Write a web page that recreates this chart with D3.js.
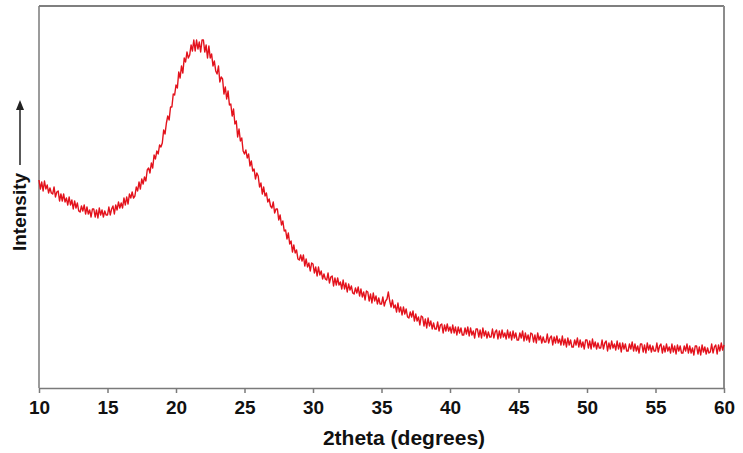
<!DOCTYPE html>
<html>
<head>
<meta charset="utf-8">
<script src="https://cdn.jsdelivr.net/npm/d3@7"></script>
<style>
  html, body { margin: 0; padding: 0; background: #ffffff; }
  svg { display: block; }
</style>
</head>
<body>
<script>
// XRD scan: 2theta from 10 to 60 degrees, one reading every 0.1 degree
const angleStart = 10;
const angleStep = 0.1;
const xTicks = [10, 15, 20, 25, 30, 35, 40, 45, 50, 55, 60];

// Intensity (arbitrary units), ten readings per degree
const intensity = [
  208,199,206,197,207,199,203,195,200,195,   // 10
  194,201,191,196,197,187,194,187,194,186,   // 11
  190,183,191,183,188,179,187,180,185,177,   // 12
  176,182,177,183,174,181,174,178,171,179,   // 13
  179,171,178,170,180,173,178,171,177,173,   // 14
  173,181,173,179,182,174,183,178,186,180,   // 15
  185,180,190,183,191,184,194,190,196,190,   // 16
  192,201,197,206,199,209,204,211,207,218,   // 17
  220,215,225,220,233,229,237,234,243,241,   // 18
  245,258,254,265,272,268,281,281,294,293,   // 19
  303,300,316,310,322,315,330,326,336,330,   // 20
  333,343,337,348,337,348,339,346,336,348,   // 21
  348,336,343,330,342,330,334,322,327,317,   // 22
  314,322,306,311,309,294,301,289,297,283,   // 23
  284,272,279,264,267,251,259,247,250,237,   // 24
  234,238,230,234,222,227,217,219,209,215,   // 25
  212,201,205,194,201,192,195,186,189,182,   // 26
  180,186,175,179,179,168,173,163,167,157,   // 27
  158,149,155,144,147,136,143,135,138,129,   // 28
  128,133,127,133,122,129,121,125,117,125,   // 29
  124,115,121,112,121,113,117,109,114,109,   // 30
  108,115,105,111,112,102,110,103,110,103,   // 31
  106, 99,108, 99,105, 96,104, 98,102, 95,   // 32
   94,100, 95,101, 92, 99, 91, 96, 88, 97,   // 33
   96, 87, 94, 85, 95, 87, 92, 84, 90, 84,   // 34
   84, 91, 82, 87, 89, 96, 87, 81, 88, 80,   // 35
   83, 76, 85, 76, 81, 73, 81, 74, 79, 71,   // 36
   70, 76, 71, 77, 67, 74, 67, 71, 63, 72,   // 37
   71, 62, 69, 60, 70, 62, 67, 59, 65, 59,   // 38
   59, 66, 57, 63, 64, 55, 63, 57, 64, 57,   // 39
   61, 55, 63, 55, 61, 53, 61, 55, 60, 53,   // 40
   53, 60, 54, 61, 52, 60, 53, 57, 50, 59,   // 41
   59, 51, 58, 50, 60, 52, 57, 50, 56, 51,   // 42
   51, 59, 50, 56, 58, 49, 57, 50, 58, 51,   // 43
   55, 49, 58, 50, 56, 48, 57, 50, 55, 48,   // 44
   48, 55, 50, 57, 47, 55, 48, 53, 46, 55,   // 45
   54, 46, 53, 45, 55, 48, 52, 45, 51, 46,   // 46
   46, 54, 45, 50, 52, 43, 51, 45, 52, 45,   // 47
   49, 43, 52, 43, 49, 41, 50, 43, 48, 41,   // 48
   41, 48, 43, 50, 41, 48, 41, 46, 39, 48,   // 49
   48, 40, 47, 39, 49, 41, 46, 39, 45, 40,   // 50
   40, 48, 39, 45, 47, 37, 45, 39, 47, 40,   // 51
   44, 38, 47, 39, 45, 36, 45, 39, 44, 37,   // 52
   37, 44, 39, 46, 37, 44, 37, 42, 35, 44,   // 53
   44, 36, 43, 35, 45, 38, 43, 36, 42, 37,   // 54
   37, 45, 36, 42, 44, 35, 42, 36, 44, 37,   // 55
   41, 35, 44, 36, 42, 34, 43, 37, 42, 35,   // 56
   35, 42, 37, 44, 35, 42, 35, 40, 33, 42,   // 57
   42, 34, 41, 33, 43, 36, 41, 34, 40, 35,   // 58
   36, 44, 35, 41, 43, 34, 43, 37, 45, 38,   // 59
   43                                         // 60
];

const xLabel = "2theta (degrees)";
const yLabel = "Intensity";

const W = 743, H = 453;
const margin = { left: 39, right: 19, top: 6, bottom: 65 };

const svg = d3.select("body").append("svg")
  .attr("width", W).attr("height", H);

const x = d3.scaleLinear().domain([10, 60]).range([margin.left, W - margin.right]);
const y = d3.scaleLinear().domain([0, 382]).range([H - margin.bottom, margin.top]);

const points = intensity.map((v, i) => [angleStart + i * angleStep, v]);

// plot frame
const frame = svg.append("g").attr("fill", "none");
frame.append("line")
  .attr("x1", x(10)).attr("x2", x(60)).attr("y1", y(382)).attr("y2", y(382))
  .attr("stroke", "#555").attr("stroke-width", 1.5);
frame.append("line")
  .attr("x1", x(60)).attr("x2", x(60)).attr("y1", y(382)).attr("y2", y(0))
  .attr("stroke", "#8c8c8c").attr("stroke-width", 2);
frame.append("line")
  .attr("x1", x(10)).attr("x2", x(10)).attr("y1", y(382)).attr("y2", y(0))
  .attr("stroke", "#7a7a7a").attr("stroke-width", 1.5);

// diffraction trace
svg.append("path")
  .datum(points)
  .attr("fill", "none")
  .attr("stroke", "#e3121c")
  .attr("stroke-width", 1.4)
  .attr("stroke-linejoin", "round")
  .attr("d", d3.line().x(d => x(d[0])).y(d => y(d[1])));

// bottom axis
const xAxis = svg.append("g")
  .attr("transform", `translate(0,${y(0)})`)
  .call(d3.axisBottom(x).tickValues(xTicks).tickSize(5).tickSizeOuter(0).tickPadding(8));
xAxis.select(".domain").attr("stroke", "#7a7a7a").attr("stroke-width", 1.5);
xAxis.selectAll(".tick line").attr("stroke", "#7a7a7a").attr("stroke-width", 1.5);
xAxis.selectAll(".tick text")
  .attr("fill", "#111")
  .style("font-family", "'Liberation Sans', Arial, sans-serif")
  .style("font-size", "19px")
  .style("font-weight", "bold");

// axis titles
svg.append("text")
  .attr("x", 404).attr("y", 445)
  .attr("text-anchor", "middle")
  .attr("fill", "#111")
  .style("font-family", "'Liberation Sans', Arial, sans-serif")
  .style("font-size", "21px")
  .style("font-weight", "bold")
  .text(xLabel);

svg.append("text")
  .attr("transform", "translate(26,212) rotate(-90)")
  .attr("text-anchor", "middle")
  .attr("fill", "#111")
  .style("font-family", "'Liberation Sans', Arial, sans-serif")
  .style("font-size", "19px")
  .style("font-weight", "bold")
  .text(yLabel);

// upward arrow beside the intensity title
const arrowX = 20;
svg.append("line")
  .attr("x1", arrowX).attr("x2", arrowX)
  .attr("y1", 165).attr("y2", 108)
  .attr("stroke", "#222").attr("stroke-width", 1.5);
svg.append("path")
  .attr("d", d3.line()([[arrowX - 4, 110], [arrowX, 100], [arrowX + 4, 110]]) + "Z")
  .attr("fill", "#222");
</script>
</body>
</html>
